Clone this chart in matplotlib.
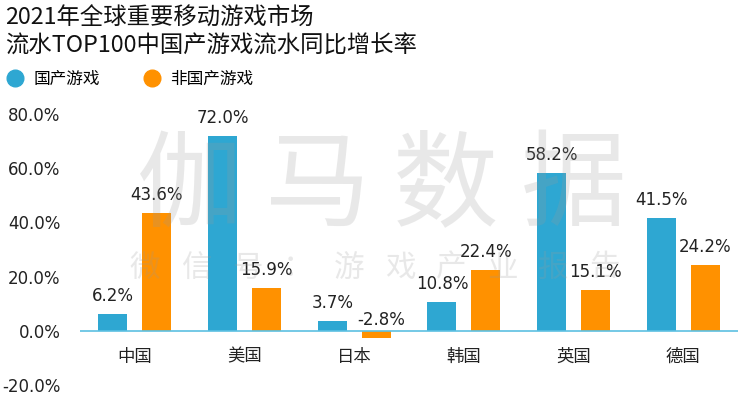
import matplotlib
matplotlib.use("Agg")
import matplotlib.pyplot as plt
from matplotlib.lines import Line2D
import numpy as np

plt.rcParams['font.family'] = ['Noto Sans CJK SC', 'DejaVu Sans']

categories = ["中国", "美国", "日本", "韩国", "英国", "德国"]
domestic = [6.2, 72.0, 3.7, 10.8, 58.2, 41.5]
foreign = [43.6, 15.9, -2.8, 22.4, 15.1, 24.2]
series_names = ["国产游戏", "非国产游戏"]
yticks = [-20, 0, 20, 40, 60, 80]
title_lines = ["2021年全球重要移动游戏市场", "流水TOP100中国产游戏流水同比增长率"]
wm_big = "伽马数据"
wm_small = "微信号：游戏产业报告"

blue = "#2ea7d2"
orange = "#ff9100"

W, H = 750, 396
fig = plt.figure(figsize=(7.5, 3.96), dpi=100)
ax = fig.add_axes([80 / W, (H - 385) / H, (738 - 80) / W, (385 - 114) / H])

x = np.arange(len(categories))
bw = 0.265
off = 0.2
ax.bar(x - off, domestic, bw, color=blue, zorder=2)
ax.bar(x + off, foreign, bw, color=orange, zorder=2)
ax.axhline(0, color="#5cc0e2", lw=1.2, zorder=3)

num_font = "DejaVu Sans"
for xs, vals in ((x - off, domestic), (x + off, foreign)):
    for xi, v in zip(xs, vals):
        if v >= 0:
            ax.annotate(f"{v:.1f}%", (xi, v), xytext=(0, 9), textcoords="offset pixels",
                        ha="center", va="bottom", fontsize=12, color="#222222",
                        family=num_font, zorder=5, annotation_clip=False)
        else:
            ax.annotate(f"{v:.1f}%", (xi + 0.05, 0), xytext=(0, 2), textcoords="offset pixels",
                        ha="center", va="bottom", fontsize=12, color="#222222",
                        family=num_font, zorder=5, annotation_clip=False)

ax.set_xlim(-0.5, len(categories) - 0.5)
ax.set_ylim(-20, 80)
ax.set_yticks(yticks)
ax.set_yticklabels([f"{t:.1f}%" for t in yticks], family=num_font, fontsize=12, color="#222222")
ax.tick_params(axis="y", length=0, pad=14)
ax.set_xticks([])
for xi, c in zip(x, categories):
    ax.annotate(c, (xi, 0), xytext=(0, -26), textcoords="offset pixels", ha="center",
                va="center", fontsize=12.5, color="#222222", annotation_clip=False)
for s in ax.spines.values():
    s.set_visible(False)

# watermark
for i, ch in enumerate(wm_big):
    fig.text((190 + i * 128) / W, 1 - 188 / H, ch, fontsize=76, color="#9a9a9a", alpha=0.22,
             ha="center", va="center", zorder=10, fontweight="light")
for i, ch in enumerate(wm_small):
    fig.text((145 + i * 51) / W, 1 - 268 / H, ch, fontsize=22, color="#9a9a9a", alpha=0.22,
             ha="center", va="center", zorder=10, fontweight="light")

fig.text(5 / W, 1 - 18 / H, title_lines[0], fontsize=16.8, color="#111111", ha="left", va="center")
fig.text(5 / W, 1 - 46 / H, title_lines[1], fontsize=16.8, color="#111111", ha="left", va="center")

handles = [Line2D([], [], marker="o", ls="", color=blue, markersize=12),
           Line2D([], [], marker="o", ls="", color=orange, markersize=12)]
fig.legend(handles, series_names, loc="center left", bbox_to_anchor=(0 / W, 1 - 79 / H),
           ncol=2, frameon=False, fontsize=12, handletextpad=0.6, columnspacing=2.6,
           handlelength=1.0, borderaxespad=0)

fig.savefig("out.png", dpi=100, facecolor="white")
